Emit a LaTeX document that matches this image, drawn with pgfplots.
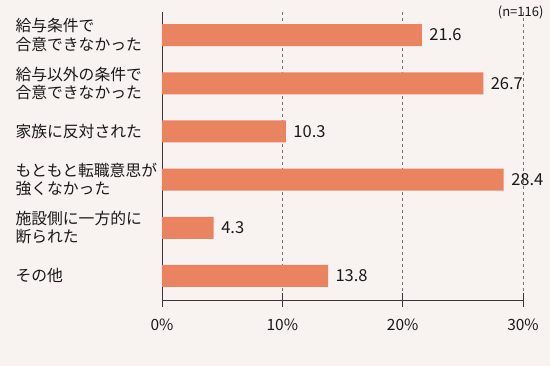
\documentclass[border=0pt]{standalone}
\usepackage{pgfplots}
\pgfplotsset{compat=1.18}
\usepackage{fontspec}
\setmainfont{Noto Sans CJK JP}
\definecolor{bg}{RGB}{248,242,240}
\definecolor{barc}{RGB}{233,131,96}
\definecolor{axc}{RGB}{60,55,55}
\definecolor{gridc}{RGB}{120,115,115}
\begin{document}
\begin{tikzpicture}[x=1pt,y=1pt]
\fill[bg] (0,0) rectangle (550,366);
\begin{axis}[
  at={(162pt,66pt)}, anchor=south west,
  scale only axis, width=361pt, height=288pt,
  xbar, bar width=22pt,
  xmin=0, xmax=30,
  ymin=-0.48, ymax=5.5, y dir=reverse,
  axis x line*=bottom, axis y line*=left,
  axis line style={axc, line width=0.9pt},
  xtick={0,10,20,30}, xticklabels={0\%,10\%,20\%,30\%},
  ytick={0,1,2,3,4,5},
  yticklabels={{給与条件で\\合意できなかった},{給与以外の条件で\\合意できなかった},{家族に反対された},{もともと転職意思が\\強くなかった},{施設側に一方的に\\断られた},{その他}},
  yticklabel style={anchor=west, align=left, xshift=-136pt, font=\fontsize{15.8}{18.5}\selectfont, text=black!90},
  xticklabel style={font=\fontsize{15.5}{18}\selectfont, text=black!90, yshift=-8pt},
  major x tick style={axc, line width=0.9pt}, 
  x tick style={axc}, xtick align=center, major tick length=14pt,
  y tick style={draw=none},
  xmajorgrids, grid style={gridc, dashed, line width=0.6pt},
  nodes near coords, point meta=explicit symbolic,
  nodes near coords style={anchor=west, xshift=4pt, font=\fontsize{16.5}{18}\selectfont, text=black!90},
  clip=false,
]
\addplot[fill=barc, draw=none] coordinates {
(21.6,0) [21.6]
(26.7,1) [26.7]
(10.3,2) [10.3]
(28.4,3) [28.4]
(4.3,4) [4.3]
(13.8,5) [13.8]
};
\end{axis}
\node[anchor=east, font=\fontsize{13}{14}\selectfont, text=black!90] at (547,354) {(n=116)};
\end{tikzpicture}
\end{document}
